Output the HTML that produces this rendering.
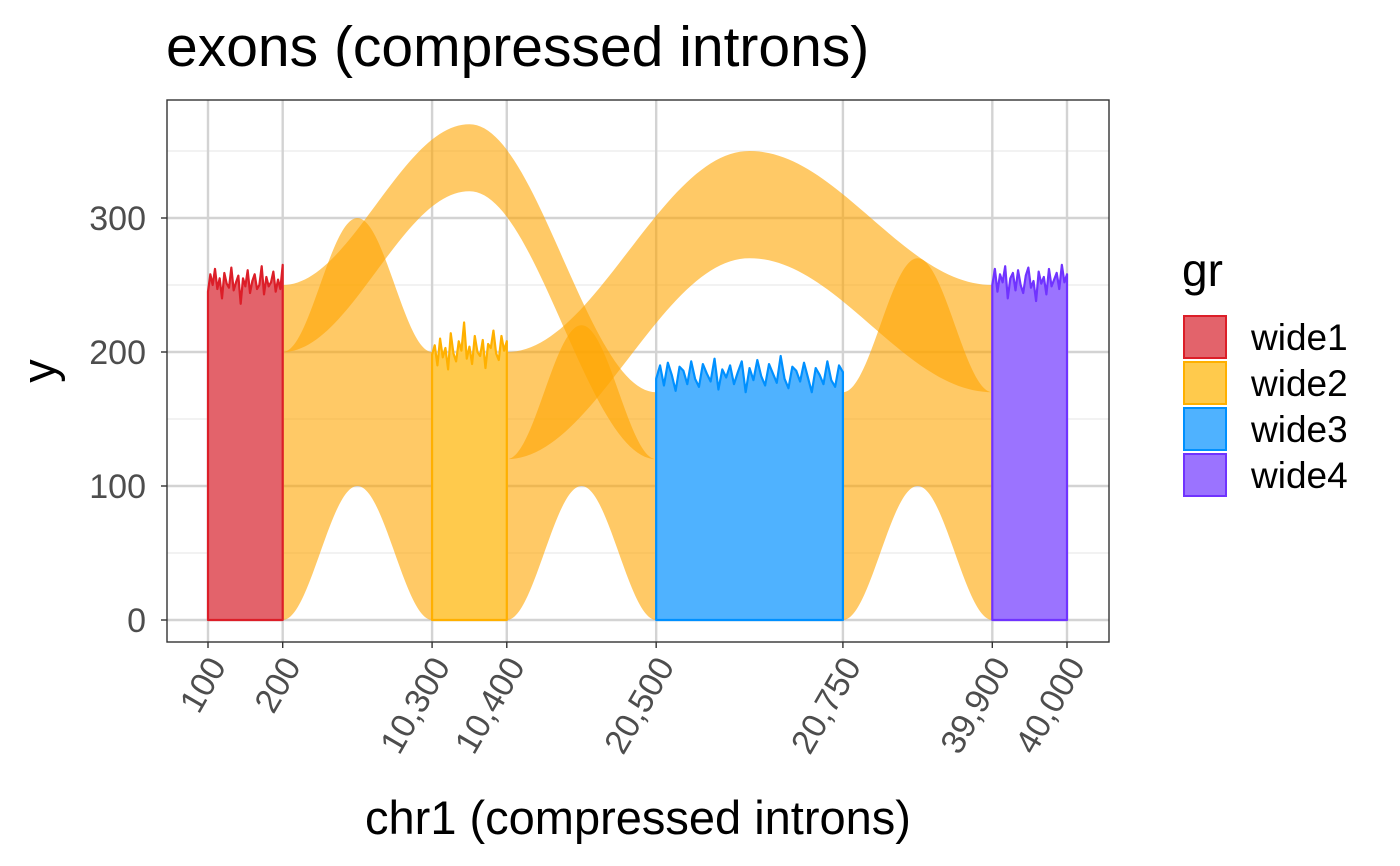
<!DOCTYPE html>
<html><head><meta charset="utf-8">
<style>
html,body{margin:0;padding:0;background:#fff;}
svg{display:block;font-family:"Liberation Sans",Arial,sans-serif;}
</style></head>
<body>
<svg id="chart" width="1400" height="866" viewBox="0 0 1400 866" xmlns="http://www.w3.org/2000/svg">
<rect width="1400" height="866" fill="#fff"/>
<text x="166" y="66" font-size="57" fill="#000">exons (compressed introns)</text>
<g id="grid"></g>
<g id="ribbons"></g>
<g id="exons"></g>
<rect x="167" y="100" width="942" height="542" fill="none" stroke="#333" stroke-width="1.4"/>
<g id="axes"></g>
<text x="638" y="834" font-size="47" text-anchor="middle" fill="#000">chr1 (compressed introns)</text>
<text transform="translate(55,371) rotate(-90)" font-size="47" text-anchor="middle" fill="#000">y</text>
<g id="legend"></g>
</svg>
<script>
// ---- data ----
const groups = ["wide1","wide2","wide3","wide4"];
const exonStarts = [0, 300, 600, 1050];      // compressed coords
const exonEnds = [100, 400, 850, 1150];
const lineColors = ["#DC1E28","#FFB000","#0090FF","#7033FF"];
const fillColors = ["#E3636B","#FFCA4C","#4FB2FF","#9B73FF"];
const cov1 = [245,258,250,262,247,255,240,259,251,248,263,246,252,257,236,255,249,261,244,253,258,247,250,264,243,256,249,252,260,245,254,247,265];
const cov2 = [198,205,190,210,196,203,187,214,199,193,208,201,222,195,204,191,212,200,197,209,188,206,203,216,199,194,212,201,208];
const cov3 = [180,190,175,192,183,171,189,186,176,193,180,174,191,184,178,195,172,187,181,190,176,185,193,170,188,179,194,182,175,191,184,177,197,180,173,189,186,178,192,181,170,188,183,176,193,179,174,190,185];
const cov4 = [250,262,245,258,252,264,240,255,259,246,261,250,244,257,263,248,253,238,260,251,256,243,262,249,254,259,247,265,252,258];
const coverage = [cov1, cov2, cov3, cov4];
// ribbons: x start/end (compressed), bottom start/end, top start/end, bump height
const ribX0 = [100, 400, 850, 100, 400];
const ribX1 = [300, 600, 1050, 600, 1050];
const ribBot0 = [0, 0, 0, 200, 120];
const ribBot1 = [0, 0, 0, 120, 170];
const ribTop0 = [200, 120, 170, 250, 200];
const ribTop1 = [200, 120, 170, 170, 250];
const ribBump = [100, 100, 100, 160, 125];
const xTicks = [0, 100, 300, 400, 600, 850, 1050, 1150];
const xTickLabels = ["100","200","10,300","10,400","20,500","20,750","39,900","40,000"];
const yTicks = [0, 100, 200, 300];
const yMinor = [50, 150, 250, 350];

// ---- scales ----
const X0=208, X1=1067, C0=0, C1=1150;
const xs = c => X0 + (c - C0) / (C1 - C0) * (X1 - X0);
const ys = v => 620 - v * 1.34;
const NS = "http://www.w3.org/2000/svg";
function mk(tag, parent, attrs){ const e=document.createElementNS(NS,tag); for(const k in attrs) e.setAttribute(k,attrs[k]); parent.appendChild(e); return e; }

const grid=document.getElementById('grid');
yMinor.forEach(v=>{ const l=mk('line',grid,{x1:167,x2:1109,y1:ys(v),y2:ys(v),stroke:'#ebebeb','stroke-width':1.2});

 });
yTicks.forEach(v=>{ const l=mk('line',grid,{x1:167,x2:1109,y1:ys(v),y2:ys(v),stroke:'#d3d3d3','stroke-width':2.4});

 });
xTicks.forEach(c=>{ const l=mk('line',grid,{x1:xs(c),x2:xs(c),y1:100,y2:642,stroke:'#d3d3d3','stroke-width':2.4});

 });

// ribbons
const rib=document.getElementById('ribbons');
const sig=t=>(1-Math.cos(Math.PI*t))/2;
function curve(y0,y1,h,t){ const P=(y0+y1)/2+h; return t<=0.5 ? y0+(P-y0)*sig(t*2) : P+(y1-P)*sig(t*2-1); }
for(let i=0;i<ribX0.length;i++){
  const N=100, top=[], bot=[];
  for(let k=0;k<=N;k++){ const t=k/N, c=ribX0[i]+(ribX1[i]-ribX0[i])*t;
    top.push(xs(c).toFixed(2)+','+ys(curve(ribTop0[i],ribTop1[i],ribBump[i],t)).toFixed(2));
    bot.push(xs(c).toFixed(2)+','+ys(curve(ribBot0[i],ribBot1[i],ribBump[i],t)).toFixed(2)); }
  const p=mk('polygon',rib,{points:top.concat(bot.reverse()).join(' '),fill:'#FFA500','fill-opacity':0.6});
  
  
}

// exons
const ex=document.getElementById('exons');
groups.forEach((g,i)=>{
  const cv=coverage[i], n=cv.length, pts=[];
  pts.push(xs(exonStarts[i])+','+ys(0));
  for(let k=0;k<n;k++){ const c=exonStarts[i]+(exonEnds[i]-exonStarts[i])*k/(n-1); pts.push(xs(c).toFixed(2)+','+ys(cv[k]).toFixed(2)); }
  pts.push(xs(exonEnds[i])+','+ys(0));
  const p=mk('polygon',ex,{points:pts.join(' '),fill:fillColors[i],stroke:lineColors[i],'stroke-width':2.2,'stroke-linejoin':'round'});
  
  
});

// axes
const ax=document.getElementById('axes');
yTicks.forEach(v=>{
  mk('line',ax,{x1:161,x2:167,y1:ys(v),y2:ys(v),stroke:'#333','stroke-width':1.4});
  const t=mk('text',ax,{x:146,y:ys(v)+12,'font-size':34,'text-anchor':'end',fill:'#4d4d4d'}); t.textContent=v;
  
  
});
xTicks.forEach((c,i)=>{
  const x=xs(c);
  mk('line',ax,{x1:x,x2:x,y1:642,y2:648,stroke:'#333','stroke-width':1.4});
  const t=mk('text',ax,{transform:`translate(${x+19},${666}) rotate(-60)`,'font-size':34,'text-anchor':'end',fill:'#4d4d4d'}); t.textContent=xTickLabels[i];
  
  
});

// legend
const lg=document.getElementById('legend');
const lt=mk('text',lg,{x:1182,y:286,'font-size':46,fill:'#000'}); lt.textContent='gr';


groups.forEach((g,i)=>{
  const y=315+i*46;
  const r=mk('rect',lg,{x:1184,y:y+1,width:42,height:42,fill:fillColors[i],stroke:lineColors[i],'stroke-width':2});
  
  
  const t=mk('text',lg,{x:1251,y:y+35,'font-size':37,fill:'#000'}); t.textContent=g;
  
  
});
</script>
</body></html>
